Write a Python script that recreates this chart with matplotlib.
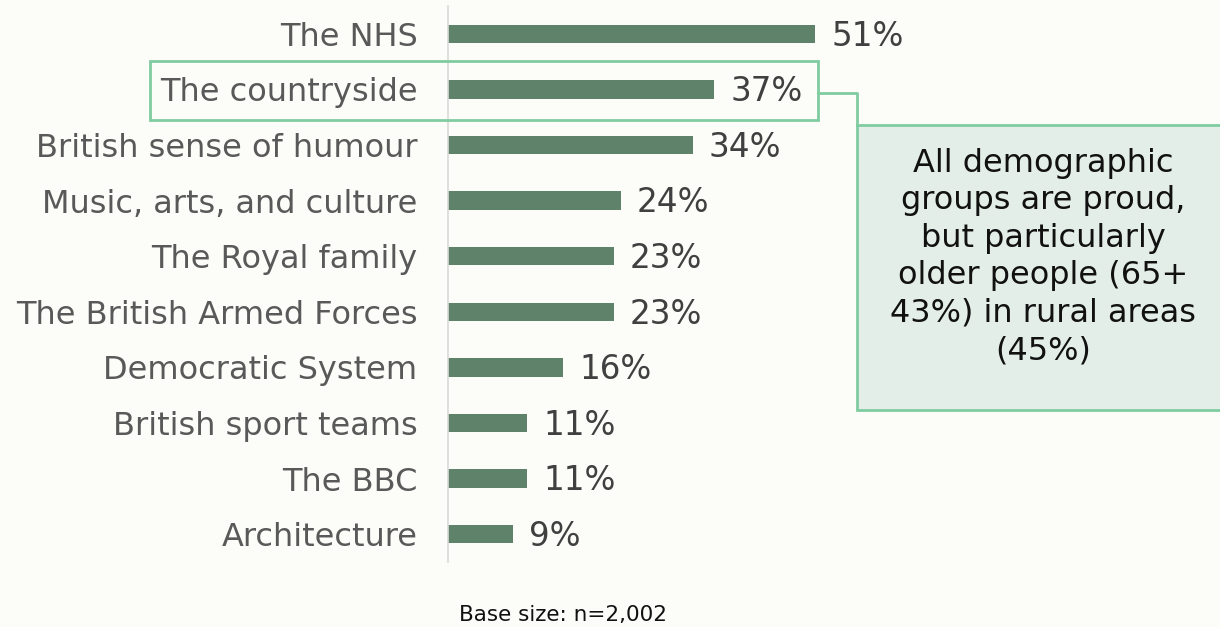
import matplotlib.pyplot as plt
from matplotlib.patches import Rectangle
from matplotlib.lines import Line2D

# donnees du graphique
categories = ['The NHS', 'The countryside', 'British sense of humour',
              'Music, arts, and culture', 'The Royal family',
              'The British Armed Forces', 'Democratic System',
              'British sport teams', 'The BBC', 'Architecture']
values = [51, 37, 34, 24, 23, 23, 16, 11, 11, 9]
callout_text = ('All demographic\ngroups are proud,\nbut particularly\n'
                'older people (65+\n43%) in rural areas\n(45%)')
base_note = 'Base size: n=2,002'

W, H = 1220, 627
bg = '#fcfdf8'
bar_color = '#5f826a'
green_edge = '#7fcca0'

fig = plt.figure(figsize=(W / 100, H / 100), dpi=100, facecolor=bg)
ax = fig.add_axes([448 / W, 1 - 562 / H, 1 - 448 / W, (562 - 6) / H])
ax.set_facecolor(bg)

y = range(len(categories))
ax.barh(y, values, height=0.33, color=bar_color)
ax.set_xlim(0, (W - 448) / 7.2)
ax.set_ylim(len(categories) - 0.5, -0.5)

for i, v in enumerate(values):
    ax.text(v + 2.2, i + 0.04, f'{v}%', va='center', ha='left', fontsize=23.5, color='#404040')

ax.set_yticks(list(y))
ax.set_yticklabels(categories, fontsize=23, color='#595959')
ax.tick_params(axis='y', length=0, pad=22)
ax.set_xticks([])
for s in ['top', 'right', 'bottom']:
    ax.spines[s].set_visible(False)
ax.spines['left'].set_color('#d9d9d9')
ax.spines['left'].set_linewidth(1.2)

# cadre autour de "The countryside"
fig.add_artist(Rectangle((150 / W, 1 - 120 / H), (818 - 150) / W, 59 / H,
                         transform=fig.transFigure, fill=False,
                         edgecolor=green_edge, linewidth=2))
# connecteur vers la boite
fig.add_artist(Line2D([818 / W, 857 / W, 857 / W], [1 - 93 / H, 1 - 93 / H, 1 - 125 / H],
                      transform=fig.transFigure, color=green_edge, linewidth=2))
# boite de commentaire
fig.add_artist(Rectangle((857 / W, 1 - 410 / H), (1230 - 857) / W, 285 / H,
                         transform=fig.transFigure, facecolor='#e4eee9',
                         edgecolor=green_edge, linewidth=2))
fig.text(1043 / W, 1 - 257 / H, callout_text, ha='center', va='center',
         fontsize=23, color='#111111', linespacing=1.27)

fig.text(563 / W, 1 - 615 / H, base_note, ha='center', va='center',
         fontsize=15.5, color='#111111')

fig.savefig('out.png', dpi=100, facecolor=bg)
